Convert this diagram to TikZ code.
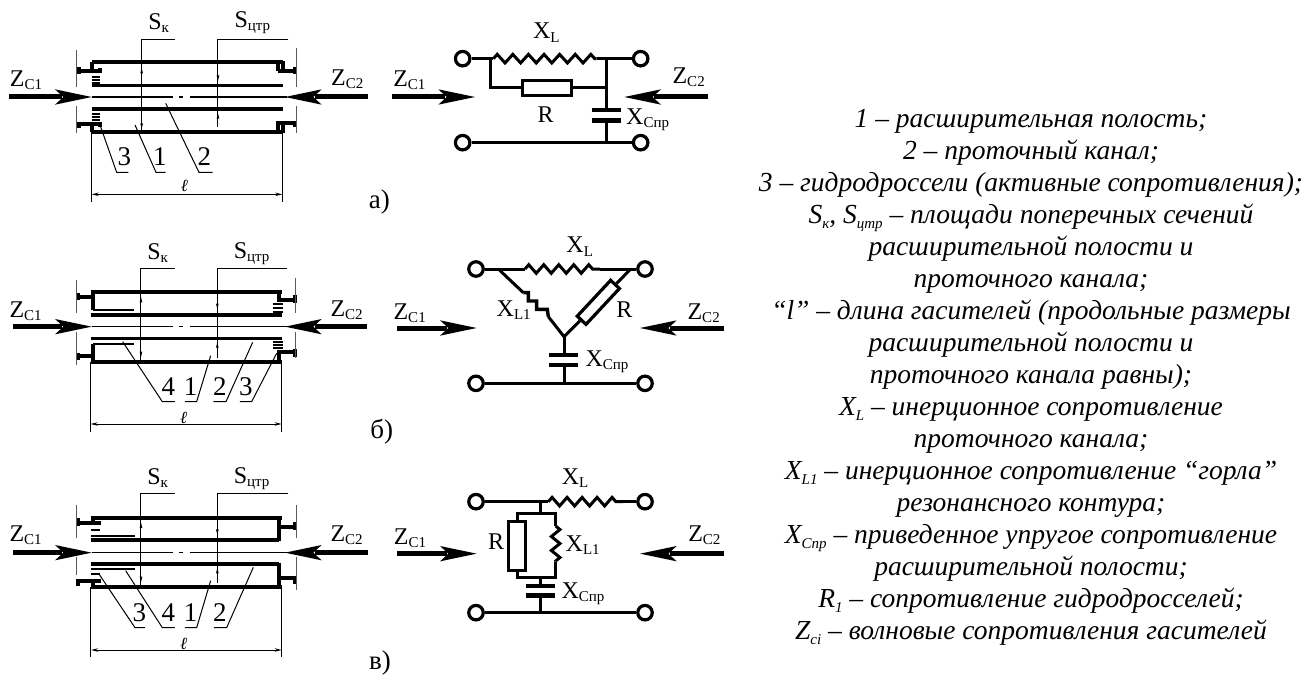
\documentclass[tikz,border=0pt]{standalone}
\usepackage{fontspec}
\setmainfont{Liberation Serif}
\usetikzlibrary{arrows.meta,decorations.pathmorphing}
\newcommand\lsub[1]{\raisebox{-.28ex}{\fontsize{15}{15}\selectfont #1}}
\newcommand\isub[1]{\raisebox{-.45ex}{\fontsize{15}{15}\selectfont #1}}
\tikzset{
 wall/.style={line width=4.2pt,line cap=butt,line join=miter},
 chan/.style={line width=3.1pt},
 finel/.style={line width=1pt},
 gline/.style={line width=.9pt,black!65},
 wire/.style={line width=3pt},
 shaft/.style={line width=5pt},
 lab/.style={inner sep=0pt,font=\fontsize{24}{24}\selectfont},
 num/.style={inner sep=0pt,font=\fontsize{27}{27}\selectfont},
 term/.style={circle,draw,line width=3.2pt,fill=white,minimum size=14.5pt,inner sep=0pt},
 res/.style={rectangle,draw,line width=3.2pt,fill=white,inner sep=0pt},
 coilz/.style={decorate,decoration={zigzag,segment length=#1,amplitude=4.3pt}},
 dimn/.style={line width=1pt,{Stealth[length=7pt,width=3.4pt]}-{Stealth[length=7pt,width=3.4pt]}},
 leg/.style={inner sep=0pt,anchor=base,font=\fontsize{27.5}{27.5}\selectfont\itshape},
 capt/.style={inner sep=0pt,font=\fontsize{27}{27}\selectfont},
 zoomed/.style={x=.33333pt,y=-.33333pt}
}
\newcommand\zarrow[4]{\begin{scope}[shift={(#1,#2)},xscale=#3]
 \fill (0,0) -- (-110,-23) -- (-85,0) -- (-110,23) -- cycle;
 \draw[shaft] (-90,0) -- (-#4,0);
\end{scope}}
\newcommand\tipup[2]{\fill (#1,#2) -- (#1-4,#2+16) -- (#1+4,#2+16) -- cycle;}
\newcommand\tipdn[2]{\fill (#1,#2) -- (#1-4,#2-16) -- (#1+4,#2-16) -- cycle;}
\begin{document}
\begin{tikzpicture}[x=1pt,y=-1pt]
\useasboundingbox (0,0) rectangle (1309,677);
\fill[white] (0,0) rectangle (1309,677);

%% ---------- a) device
\begin{scope}[zoomed]
\draw[wall] (277,186) -- (848,186);
\draw[wall] (277,397) -- (848,397);
\draw[wall] (277,186) -- (277,212);
\draw[wall] (848,184) -- (848,214) -- (835,214);
\draw[wall] (848,214) -- (880,214);
\draw[wall] (848,399) -- (848,370) -- (880,370);
\draw[wall] (835,399) -- (835,370) -- (850,370);
\draw[wall] (835,184) -- (835,214);
\draw[wall] (300,205) -- (300,214) -- (232,214);
\draw[wall] (236,200) -- (236,222);
\draw[wall] (886,200) -- (886,222);
\draw[wall] (277,397) -- (277,375);
\draw[wall] (300,380) -- (300,373) -- (232,373);
\draw[wall] (236,365) -- (236,385);
\draw[wall] (886,362) -- (886,382);
\draw[chan] (275,256) -- (848,256);
\draw[chan] (275,327) -- (848,327);
\foreach \yy in {232,241,250,342,351,360} \draw[line width=1.8pt] (275,\yy) -- (300,\yy);
\draw[gline] (230,150) -- (230,262) (230,318) -- (230,400);
\draw[gline] (888,145) -- (888,262) (888,318) -- (888,400);
\draw[line width=1.2pt] (275,291) -- (520,291) (538,291) -- (550,291) (570,291) -- (860,291);
\draw[finel] (525,118) -- (425,118) -- (425,397);
\draw[finel] (865,118) -- (654,118) -- (654,382);
\tipup{425}{204} \tipdn{425}{386}
\tipdn{654}{242} \tipup{654}{340}
\draw[finel] (300,375) -- (350,517) -- (385,517);
\draw[finel] (405,375) -- (468,517) -- (497,517);
\draw[finel] (497,310) -- (597,517) -- (638,517);
\draw[finel] (275,397) -- (275,607);
\draw[finel] (847,397) -- (847,607);
\coordinate (adl) at (275,583); \coordinate (adr) at (847,583);
\draw[dimn] (adl) -- (adr);
\node[lab] (aSk) at (476,68) {S\lsub{к}};
\node[lab] (aSt) at (757,68) {S\lsub{цтр}};
\node[lab] (aZ1) at (78,240) {Z\lsub{C1}};
\node[lab] (aZ2) at (1042,238) {Z\lsub{C2}};
\node[num] (an3) at (373,470) {3};
\node[num] (an1) at (480,470) {1};
\node[num] (an2) at (613,470) {2};
\node[num,font=\fontsize{17}{17}\selectfont\itshape] (al) at (553,558) {ℓ};
\node[capt] (acap) at (1138,607) {а)};
\zarrow{275}{291}{1}{248}
\zarrow{855}{291}{-1}{248}
\end{scope}

%% ---------- b) device
\begin{scope}[zoomed,yshift=-225pt]
\draw[wall] (272,200) -- (845,200);
\draw[wall] (272,410) -- (845,410);
\draw[wall] (278,198) -- (278,256);
\draw[wall] (278,412) -- (278,358);
\draw[line width=2pt] (278,255) -- (402,255);
\draw[line width=2pt] (278,358) -- (402,358);
\draw[wall] (838,198) -- (838,225) -- (880,225);
\draw[wall] (838,412) -- (838,381) -- (880,381);
\draw[wall] (884,210) -- (884,235);
\draw[wall] (884,372) -- (884,396);
\draw[wall] (230,215) -- (272,215);
\draw[wall] (230,392) -- (272,392);
\draw[wall] (234,204) -- (234,226);
\draw[wall] (234,384) -- (234,406);
\draw[chan] (272,270) -- (845,270);
\draw[chan] (272,340) -- (845,340);
\foreach \yy in {238,250,262,351,360,370} \draw[line width=1.8pt] (818,\yy) -- (848,\yy);
\draw[gline] (228,165) -- (228,265) (228,320) -- (228,420);
\draw[gline] (886,160) -- (886,265) (886,320) -- (886,400);
\draw[line width=1.2pt] (275,305) -- (520,305) (538,305) -- (550,305) (570,305) -- (860,305);
\draw[finel] (525,130) -- (423,130) -- (423,410);
\draw[finel] (862,130) -- (652,130) -- (652,400);
\tipup{423}{216} \tipdn{423}{396}
\tipdn{652}{252} \tipup{652}{352}
\draw[finel] (368,350) -- (487,530) -- (525,530);
\draw[finel] (632,392) -- (590,530) -- (555,530);
\draw[finel] (758,352) -- (678,530) -- (640,530);
\draw[finel] (830,385) -- (755,530) -- (720,530);
\draw[finel] (272,410) -- (272,620);
\draw[finel] (845,410) -- (845,620);
\coordinate (bdl) at (272,597); \coordinate (bdr) at (845,597);
\draw[dimn] (bdl) -- (bdr);
\node[lab] (bSk) at (473,85) {S\lsub{к}};
\node[lab] (bSt) at (755,85) {S\lsub{цтр}};
\node[lab] (bZ1) at (77,258) {Z\lsub{C1}};
\node[lab] (bZ2) at (1040,255) {Z\lsub{C2}};
\node[num] (bn4) at (505,485) {4};
\node[num] (bn1) at (572,485) {1};
\node[num] (bn2) at (660,485) {2};
\node[num] (bn3) at (738,485) {3};
\node[num,font=\fontsize{17}{17}\selectfont\itshape] (bl) at (551,578) {ℓ};
\node[capt] (bcap) at (1145,620) {б)};
\zarrow{275}{305}{1}{237}
\zarrow{855}{305}{-1}{245}
\end{scope}

%% ---------- c) device
\begin{scope}[zoomed,yshift=-450pt]
\draw[wall] (272,203) -- (845,203);
\draw[wall] (272,410) -- (845,410);
\draw[chan] (272,270) -- (838,270);
\draw[chan] (272,342) -- (838,342);
\draw[wall] (838,201) -- (838,272);
\draw[wall] (838,340) -- (838,412);
\draw[wall] (838,231) -- (885,231);
\draw[wall] (838,385) -- (885,385);
\draw[wall] (278,201) -- (278,218);
\draw[wall] (278,412) -- (278,392);
\draw[wall] (302,218) -- (232,218);
\draw[wall] (302,392) -- (232,392);
\draw[wall] (235,205) -- (235,228);
\draw[wall] (235,386) -- (235,408);
\draw[wall] (885,215) -- (885,240);
\draw[wall] (885,378) -- (885,402);
\draw[line width=2pt] (272,257) -- (405,257);
\draw[line width=2pt] (272,358) -- (405,358);
\foreach \yy in {240,372} \draw[line width=2pt] (272,\yy) -- (300,\yy);
\draw[gline] (228,165) -- (228,265) (228,320) -- (228,375);
\draw[gline] (888,165) -- (888,265) (888,320) -- (888,420);
\draw[line width=1.2pt] (275,308) -- (520,308) (538,308) -- (550,308) (570,308) -- (860,308);
\draw[finel] (525,130) -- (423,130) -- (423,410);
\draw[finel] (865,130) -- (652,130) -- (652,400);
\tipup{423}{218} \tipdn{423}{396}
\tipdn{652}{254} \tipup{652}{354}
\draw[finel] (297,372) -- (405,533) -- (435,533);
\draw[finel] (377,362) -- (487,533) -- (525,533);
\draw[finel] (632,392) -- (590,533) -- (555,533);
\draw[finel] (760,352) -- (680,533) -- (642,533);
\draw[finel] (273,410) -- (273,622);
\draw[finel] (845,410) -- (845,622);
\coordinate (cdl) at (273,600); \coordinate (cdr) at (845,600);
\draw[dimn] (cdl) -- (cdr);
\node[lab] (cSk) at (473,85) {S\lsub{к}};
\node[lab] (cSt) at (755,85) {S\lsub{цтр}};
\node[lab] (cZ1) at (77,255) {Z\lsub{C1}};
\node[lab] (cZ2) at (1040,255) {Z\lsub{C2}};
\node[num] (cn3) at (418,488) {3};
\node[num] (cn4) at (505,488) {4};
\node[num] (cn1) at (572,488) {1};
\node[num] (cn2) at (660,488) {2};
\node[num,font=\fontsize{17}{17}\selectfont\itshape] (cl) at (551,582) {ℓ};
\node[capt] (ccap) at (1140,640) {в)};
\zarrow{275}{308}{1}{235}
\zarrow{855}{308}{-1}{248}
\end{scope}

%% ---------- a) circuit
\begin{scope}[zoomed,xshift=390pt]
\node[term] (A1) at (218,176) {};
\node[term] (A2) at (752,176) {};
\node[term] (A3) at (218,428) {};
\node[term] (A4) at (752,428) {};
\coordinate (Az1) at (310,176); \coordinate (Az2) at (620,176);
\coordinate (Aj) at (300,176); \coordinate (Ak) at (650,176);
\coordinate (Al) at (300,264); \coordinate (Am) at (650,264);
\coordinate (Ac1) at (650,330); \coordinate (Ac2) at (650,360); \coordinate (Ab) at (650,428);
\node[res,minimum width=49pt,minimum height=15pt] (AR) at (472,264) {};
\draw[wire] (A1) -- (Az1);
\draw[wire,coilz=15.6pt] (Az1) -- (Az2);
\draw[wire] (Az2) -- (A2);
\draw[wire,line join=miter] (Aj) -- (Al) -- (AR);
\draw[wire] (AR) -- (Am);
\draw[wire] (Ak) -- (Ac1);
\draw[wire] (Ac2) -- (Ab);
\draw[wire] (A3) -- (A4);
\draw[line width=4.6pt] (605,330) -- (692,330) (605,361) -- (692,361);
\node[lab] (AXL) at (469,98) {X\lsub{L}};
\node[lab] (ARl) at (467,345) {R};
\node[lab] (AXC) at (773,358) {X\lsub{Cпр}};
\node[lab] (AZ1) at (58,240) {Z\lsub{C1}};
\node[lab] (AZ2) at (896,232) {Z\lsub{C2}};
\zarrow{255}{291}{1}{250}
\zarrow{703}{291}{-1}{252}
\end{scope}

%% ---------- b) circuit
\begin{scope}[zoomed,xshift=390pt,yshift=-225pt]
\node[term] (B1) at (258,132) {};
\node[term] (B2) at (765,132) {};
\node[term] (B3) at (258,475) {};
\node[term] (B4) at (765,475) {};
\coordinate (Bz1) at (405,132); \coordinate (Bz2) at (630,132);
\coordinate (Bl) at (325,132); \coordinate (Br) at (722,132);
\coordinate (Bs) at (400,203); \coordinate (Bt) at (475,275);
\coordinate (Bn) at (522,335);
\coordinate (Bc1) at (522,390); \coordinate (Bc2) at (522,420); \coordinate (Bb) at (522,475);
\node[res,minimum width=49pt,minimum height=12pt,rotate=47] (BR) at (625,232) {};
\draw[wire] (B1) -- (Bz1);
\draw[wire,coilz=15pt] (Bz1) -- (Bz2);
\draw[wire] (Bz2) -- (B2);
\draw[wire] (Bl) -- (Bs);
\draw[line width=3.4pt,line join=miter] (Bs) -- (415,203) -- (415,228) -- (440,228) -- (440,253) -- (472,253) -- (Bt);
\draw[wire] (Bt) -- (Bn) -- (BR);
\draw[wire] (BR) -- (Br);
\draw[wire] (Bn) -- (Bc1);
\draw[wire] (Bc2) -- (Bb);
\draw[wire] (B3) -- (B4);
\draw[line width=4.6pt] (478,390) -- (565,390) (478,420) -- (565,420);
\node[lab] (BXL) at (569,65) {X\lsub{L}};
\node[lab] (BXL1) at (371,255) {X\lsub{L1}};
\node[lab] (BRl) at (703,255) {R};
\node[lab] (BXC) at (651,410) {X\lsub{Cпр}};
\node[lab] (BZ1) at (59,265) {Z\lsub{C1}};
\node[lab] (BZ2) at (941,265) {Z\lsub{C2}};
\zarrow{260}{309}{1}{238}
\zarrow{750}{309}{-1}{253}
\end{scope}

%% ---------- c) circuit
\begin{scope}[zoomed,xshift=390pt,yshift=-450pt]
\node[term] (C1) at (258,155) {};
\node[term] (C2) at (765,155) {};
\node[term] (C3) at (258,488) {};
\node[term] (C4) at (765,488) {};
\coordinate (Cz1) at (475,155); \coordinate (Cz2) at (700,155);
\coordinate (Cj) at (452,155); \coordinate (Cu) at (452,190);
\coordinate (Cul) at (382,190); \coordinate (Cur) at (497,190);
\coordinate (Cz3) at (497,228); \coordinate (Cz4) at (497,335);
\coordinate (Cdl) at (382,383); \coordinate (Cdr) at (497,383);
\coordinate (Cd) at (452,383); \coordinate (Cc1) at (452,408);
\coordinate (Cc2) at (452,436); \coordinate (Cb) at (452,488);
\node[res,minimum width=17pt,minimum height=49pt] (CR) at (382,288) {};
\draw[wire] (C1) -- (Cz1);
\draw[wire,coilz=15pt] (Cz1) -- (Cz2);
\draw[wire] (Cz2) -- (C2);
\draw[wire] (Cj) -- (Cu);
\draw[wire,line join=miter] (CR) -- (Cul) -- (Cur) -- (Cz3);
\draw[wire,coilz=14pt] (Cz3) -- (Cz4);
\draw[wire,line join=miter] (Cz4) -- (Cdr) -- (Cdl) -- (CR);
\draw[wire] (Cd) -- (Cc1);
\draw[wire] (Cc2) -- (Cb);
\draw[wire] (C3) -- (C4);
\draw[line width=4.6pt] (408,408) -- (495,408) (408,436) -- (495,436);
\node[lab] (CXL) at (555,85) {X\lsub{L}};
\node[lab] (CRl) at (318,275) {R};
\node[lab] (CXL1) at (578,285) {X\lsub{L1}};
\node[lab] (CXC) at (579,430) {X\lsub{Cпр}};
\node[lab] (CZ1) at (60,265) {Z\lsub{C1}};
\node[lab] (CZ2) at (943,255) {Z\lsub{C2}};
\zarrow{260}{311}{1}{238}
\zarrow{750}{311}{-1}{253}
\end{scope}

%% ---------- legend
\node[leg] (t1)  at (1031,127) {1 – расширительная полость;};
\node[leg] (t2)  at (1031,159) {2 – проточный канал;};
\node[leg] (t3)  at (1031,191) {3 – гидродроссели (активные сопротивления);};
\node[leg] (t4)  at (1031,223) {S\isub{к}, S\isub{цтр} – площади поперечных сечений};
\node[leg] (t5)  at (1031,255) {расширительной полости и};
\node[leg] (t6)  at (1031,287) {проточного канала;};
\node[leg] (t7)  at (1031,319) {“l” – длина гасителей (продольные размеры};
\node[leg] (t8)  at (1031,351) {расширительной полости и};
\node[leg] (t9)  at (1031,383) {проточного канала равны);};
\node[leg] (t10) at (1031,415) {X\isub{L} – инерционное сопротивление};
\node[leg] (t11) at (1031,447) {проточного канала;};
\node[leg] (t12) at (1031,479) {X\isub{L1} – инерционное сопротивление “горла”};
\node[leg] (t13) at (1031,511) {резонансного контура;};
\node[leg] (t14) at (1031,543) {X\isub{Cпр} – приведенное упругое сопротивление};
\node[leg] (t15) at (1031,575) {расширительной полости;};
\node[leg] (t16) at (1031,607) {R\isub{1} – сопротивление гидродросселей;};
\node[leg] (t17) at (1031,639) {Z\isub{ci} – волновые сопротивления гасителей};
\end{tikzpicture}
\end{document}
